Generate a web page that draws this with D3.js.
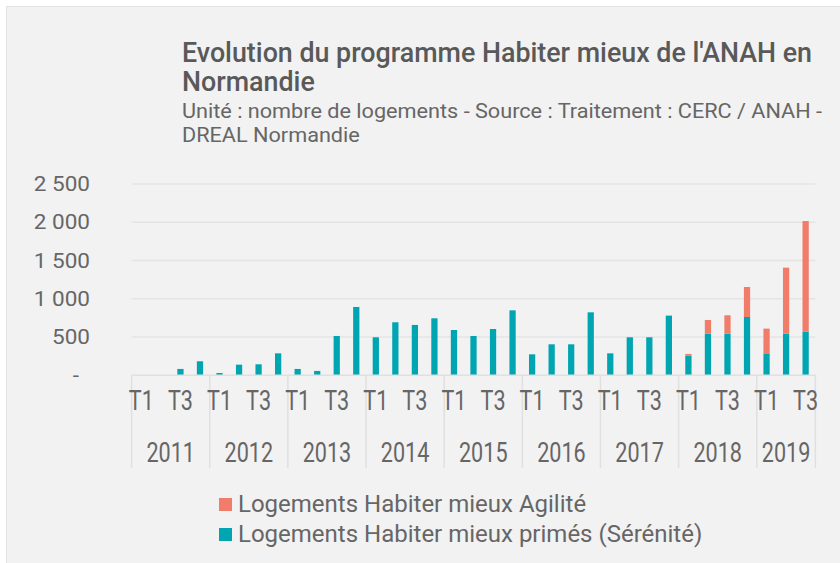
<!DOCTYPE html>
<html>
<head>
<meta charset="utf-8">
<script src="https://cdn.jsdelivr.net/npm/d3@7"></script>
<style>
  body { margin: 0; background: #fff; }
  text { font-family: Roboto, "Noto Sans", sans-serif; fill: #666; }
</style>
</head>
<body>
<svg id="chart" width="840" height="563"></svg>
<script>
const years = [2011, 2012, 2013, 2014, 2015, 2016, 2017, 2018, 2019]
const quarters = ['T1', 'T2', 'T3', 'T4']
const shownQuarters = ['T1', 'T3']

// Logements Habiter mieux primés (Sérénité), one value per quarter
const serenite = [0, 0, 83, 183, 30, 139, 144, 287, 83, 57, 514, 893,
  497, 693, 658, 745, 592, 514, 605, 849, 274, 405, 405, 823,
  287, 497, 497, 780, 257, 544, 544, 762, 287, 544, 571]
// Logements Habiter mieux Agilité
const agilite = [0, 0, 0, 0, 0, 0, 0, 0, 0, 0, 0, 0,
  0, 0, 0, 0, 0, 0, 0, 0, 0, 0, 0, 0,
  0, 0, 0, 0, 22, 179, 240, 392, 323, 863, 1445]

const yTicks = [0, 500, 1000, 1500, 2000, 2500]
const seriesNames = ['Logements Habiter mieux Agilité', 'Logements Habiter mieux primés (Sérénité)']
const colors = { agilite: '#F07C69', serenite: '#00A5B2' }

const periods = []
years.forEach(y => quarters.forEach(q => {
  if (periods.length < serenite.length) periods.push({ year: y, q: q, key: y + q })
}))
periods.forEach((p, i) => { p.serenite = serenite[i]; p.agilite = agilite[i] })

const svg = d3.select('#chart')

// panel
svg.append('rect')
  .attr('x', 6.5).attr('y', 6.5)
  .attr('width', 860).attr('height', 600)
  .attr('fill', '#F2F2F2').attr('stroke', '#E3E3E3')

const condense = (sel, k) => sel.each(function () {
  const len = this.getComputedTextLength()
  d3.select(this).attr('textLength', len * k).attr('lengthAdjust', 'spacingAndGlyphs')
})

// fit the first line to a width, squeeze the others by the same ratio
const fitLines = (sel, width) => {
  const k = width / sel.node().getComputedTextLength()
  sel.call(condense, k)
}

// titles
svg.append('g').selectAll('text')
  .data(["Evolution du programme Habiter mieux de l'ANAH en", 'Normandie'])
  .enter().append('text')
  .attr('x', 182).attr('y', (d, i) => 62 + i * 29)
  .attr('font-size', 27).attr('font-weight', 500)
  .style('fill', '#595959')
  .text(d => d)
  .call(fitLines, 630)
svg.append('g').selectAll('text')
  .data(['Unité : nombre de logements - Source : Traitement : CERC / ANAH -', 'DREAL Normandie'])
  .enter().append('text')
  .attr('x', 182).attr('y', (d, i) => 118 + i * 24)
  .attr('font-size', 20.5)
  .text(d => d)
  .call(fitLines, 640)

const x = d3.scaleBand()
  .domain(periods.map(p => p.key))
  .range([131.6, 815.4])
  .paddingInner(0.68).paddingOuter(0.34)

const y = d3.scaleLinear()
  .domain([0, 2500])
  .range([375.3, 184])

// gridlines
svg.append('g')
  .selectAll('line')
  .data(yTicks.slice(1))
  .enter().append('line')
  .attr('x1', 131.6).attr('x2', 815.4)
  .attr('y1', d => y(d)).attr('y2', d => y(d))
  .attr('stroke', '#E4E4E4').attr('stroke-width', 1.5)

// y labels
const fmt = d => d === 0 ? '-' : d3.format(',')(d).replace(',', ' ')
svg.append('g')
  .selectAll('text')
  .data(yTicks)
  .enter().append('text')
  .attr('x', d => d === 0 ? 79 : 90)
  .attr('y', d => y(d) + 7)
  .attr('text-anchor', 'end')
  .attr('font-size', 20.5)
  .text(fmt)
  .call(condense, 1.1)

// stacked bars
const stack = d3.stack().keys(['serenite', 'agilite'])(periods)
svg.append('g')
  .selectAll('g')
  .data(stack)
  .enter().append('g')
  .attr('fill', d => colors[d.key])
  .selectAll('rect')
  .data(d => d.filter(s => s[1] - s[0] > 0))
  .enter().append('rect')
  .attr('x', d => x(d.data.key))
  .attr('width', x.bandwidth())
  .attr('y', d => y(d[1]))
  .attr('height', d => y(d[0]) - y(d[1]))

// category axis
const axis = svg.append('g')
axis.append('line')
  .attr('x1', 131.6).attr('x2', 815.4)
  .attr('y1', y(0)).attr('y2', y(0))
  .attr('stroke', '#E0E0E0').attr('stroke-width', 1.5)

const yearBounds = years.map(yr => {
  const ps = periods.filter(p => p.year === yr)
  const x0 = x(ps[0].key) - x.step() * x.paddingInner() / 2
  const x1 = x(ps[ps.length - 1].key) + x.bandwidth() + x.step() * x.paddingInner() / 2
  return { year: yr, x0: x0, x1: x1 }
})
const sep = [yearBounds[0].x0].concat(yearBounds.map(b => b.x1))
axis.selectAll('line.sep')
  .data(sep)
  .enter().append('line')
  .attr('x1', d => d).attr('x2', d => d)
  .attr('y1', y(0)).attr('y2', 468)
  .attr('stroke', '#E0E0E0').attr('stroke-width', 1.5)

axis.selectAll('text.q')
  .data(periods.filter(p => shownQuarters.includes(p.q)))
  .enter().append('text')
  .attr('x', d => x(d.key) + x.bandwidth() / 2)
  .attr('y', 410)
  .attr('text-anchor', 'middle')
  .attr('font-size', 27)
  .text(d => d.q)
  .call(condense, 0.8)

axis.selectAll('text.y')
  .data(yearBounds)
  .enter().append('text')
  .attr('x', d => (d.x0 + d.x1) / 2)
  .attr('y', 462)
  .attr('text-anchor', 'middle')
  .attr('font-size', 27)
  .text(d => d.year)
  .call(condense, 0.8)

// legend
const legend = svg.append('g')
  .selectAll('g')
  .data(seriesNames)
  .enter().append('g')
  .attr('transform', (d, i) => `translate(219, ${498 + i * 30})`)
legend.append('rect')
  .attr('width', 13).attr('height', 13)
  .attr('fill', (d, i) => i === 0 ? colors.agilite : colors.serenite)
legend.append('text')
  .attr('x', 19).attr('y', 14)
  .attr('font-size', 24)
  .text(d => d)
</script>
</body>
</html>
